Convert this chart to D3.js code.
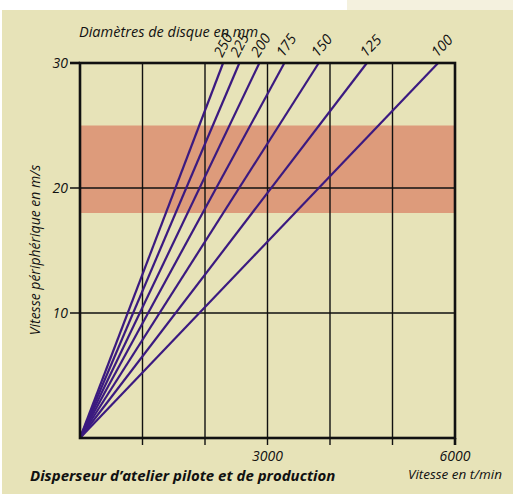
<!DOCTYPE html>
<html><head><meta charset="utf-8">
<script src="https://cdn.jsdelivr.net/npm/d3@7"></script>
<style>
html,body{margin:0;padding:0;background:#fff;}
text{font-family:"Open Sans","Noto Sans",sans-serif;font-style:italic;fill:#111;}
</style></head>
<body><svg id="c" width="513" height="494"></svg>
<script>
// Data
const diameters = [250, 225, 200, 175, 150, 125, 100];            // mm
const rpmAt30 = [2290, 2550, 2870, 3270, 3820, 4590, 5730];       // t/min where each line reaches 30 m/s
const maxSpeed = 30;
const band = [18, 25];                                             // m/s recommended zone
const xGridTicks = [1000, 2000, 3000, 4000, 5000, 6000];
const xTickLabels = [3000, 6000];
const yTicks = [10, 20, 30];
const labelAngles = [-63, -62, -57, -55, -50, -46, -46];

const svg = d3.select("#c");
svg.append("rect").attr("x",2).attr("y",10).attr("width",511).attr("height",484).attr("fill","#e7e3b8");
svg.append("rect").attr("x",347).attr("y",0).attr("width",166).attr("height",10).attr("fill","#f4f1de");

const L=80,R=455,T=63,B=438;
const x = d3.scaleLinear().domain([0,6000]).range([L,R]);
const y = d3.scaleLinear().domain([0,30]).range([B,T]);

// band
svg.append("rect").attr("x",L).attr("y",y(band[1])).attr("width",R-L).attr("height",y(band[0])-y(band[1])).attr("fill","#dd9b7b");

// grid
const g = svg.append("g");
g.selectAll("line.vg").data(xGridTicks.slice(0,-1)).join("line")
  .attr("x1",d=>x(d)).attr("x2",d=>x(d)).attr("y1",T).attr("y2",B+7)
  .attr("stroke","#111").attr("stroke-width",1.4);
g.selectAll("line.hg").data(yTicks.slice(0,-1)).join("line")
  .attr("x1",L-10).attr("x2",R).attr("y1",d=>y(d)).attr("y2",d=>y(d))
  .attr("stroke","#111").attr("stroke-width",1.4);

// lines
svg.append("g").selectAll("line").data(rpmAt30).join("line")
  .attr("x1",x(0)).attr("y1",y(0)).attr("x2",d=>x(d)).attr("y2",y(maxSpeed))
  .attr("stroke","#3b1a80").attr("stroke-width",2.2);

// frame
svg.append("rect").attr("x",L).attr("y",T).attr("width",R-L).attr("height",B-T)
  .attr("fill","none").attr("stroke","#111").attr("stroke-width",2.6);
svg.append("line").attr("x1",L-10).attr("x2",L).attr("y1",y(30)).attr("y2",y(30)).attr("stroke","#111").attr("stroke-width",2.6);
svg.append("line").attr("x1",R).attr("x2",R).attr("y1",B).attr("y2",B+7).attr("stroke","#111").attr("stroke-width",2.6);

// y labels
svg.selectAll("text.yl").data(yTicks).join("text").attr("class","yl")
  .attr("x",L-12).attr("y",d=>y(d)+5).attr("text-anchor","end").attr("font-size",14).text(d=>d);
// x labels
svg.selectAll("text.xl").data(xTickLabels).join("text").attr("class","xl")
  .attr("x",d=>x(d)).attr("y",461).attr("text-anchor","middle").attr("font-size",14).text(d=>d);

// diameter labels
svg.selectAll("text.dl").data(diameters).join("text").attr("class","dl")
  .attr("font-size",14.5)
  .attr("transform",(d,i)=>`translate(${x(rpmAt30[i])-1},${T-5}) rotate(${labelAngles[i]})`)
  .text(d=>d);

svg.append("text").attr("x",79).attr("y",37).attr("font-size",14.5).text("Diamètres de disque en mm");
svg.append("text").attr("transform","translate(40,250) rotate(-90)").attr("text-anchor","middle")
  .attr("font-size",14).text("Vitesse périphérique en m/s");
svg.append("text").attr("x",30).attr("y",481).attr("font-size",15).attr("font-weight","bold")
  .text("Disperseur d’atelier pilote et de production");
svg.append("text").attr("x",502).attr("y",479).attr("text-anchor","end").attr("font-size",13.5).text("Vitesse en t/min");
</script></body></html>
